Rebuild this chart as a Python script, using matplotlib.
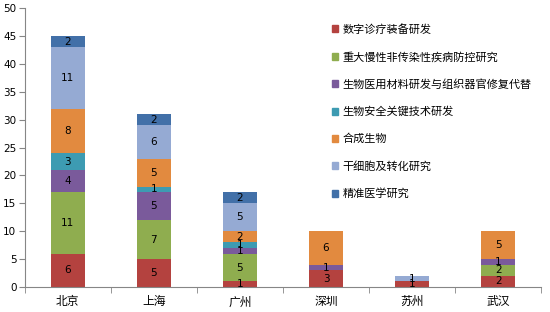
import matplotlib.pyplot as plt
import matplotlib.patches as mpatches
import numpy as np

plt.rcParams['font.family'] = ['DejaVu Sans', 'Noto Sans CJK SC']

cities = ["北京", "上海", "广州", "深圳", "苏州", "武汉"]
series_names = [
    "数字诊疗装备研发",
    "重大慢性非传染性疾病防控研究",
    "生物医用材料研发与组织器官修复代替",
    "生物安全关键技术研发",
    "合成生物",
    "干细胞及转化研究",
    "精准医学研究",
]
digital = [6, 5, 1, 3, 1, 2]
chronic = [11, 7, 5, 0, 0, 2]
biomaterial = [4, 5, 1, 1, 0, 1]
biosafety = [3, 1, 1, 0, 0, 0]
synthetic = [8, 5, 2, 6, 0, 5]
stemcell = [11, 6, 5, 0, 1, 0]
precision = [2, 2, 2, 0, 0, 0]

series = [digital, chronic, biomaterial, biosafety, synthetic, stemcell, precision]
colors = ["#B4423F", "#8FAD4F", "#7A5A9B", "#3D9BB2", "#E28A3F", "#95AAD3", "#4270A8"]

fig = plt.figure(figsize=(5.5, 3.12), dpi=100)
ax = fig.add_axes([0.045, 0.080, 0.939, 0.894])

x = np.arange(len(cities))
bottom = np.zeros(len(cities))
for vals, col in zip(series, colors):
    vals = np.array(vals, dtype=float)
    ax.bar(x, vals, 0.4, bottom=bottom, color=col, edgecolor="none")
    for xi, v, b in zip(x, vals, bottom):
        if v > 0:
            ax.text(xi, b + v / 2, f"{int(v)}", ha="center", va="center",
                    fontsize=7.5, color="black")
    bottom += vals

ax.set_xlim(-0.5, len(cities) - 0.5)
ax.set_ylim(0, 50)
ax.set_yticks(range(0, 51, 5))
ax.set_xticks(x)
ax.set_xticklabels(cities, fontsize=8.5)
ax.set_xticks(np.arange(-0.5, len(cities), 1), minor=True)
ax.tick_params(axis="x", which="major", length=0, pad=6)
ax.tick_params(axis="x", which="minor", length=4, color="#868686", direction="out")
ax.tick_params(axis="y", length=4, color="#868686", labelsize=7.5, pad=2)
for s in ["top", "right"]:
    ax.spines[s].set_visible(False)
for s in ["left", "bottom"]:
    ax.spines[s].set_color("#868686")

handles = [mpatches.Patch(color=c, label=n) for c, n in zip(colors, series_names)]
fig.legend(handles=handles, loc="upper left", bbox_to_anchor=(0.585, 0.955),
           frameon=False, fontsize=8, labelspacing=1.5,
           handlelength=0.6, handleheight=0.6, handletextpad=0.4)

fig.savefig("out.png", dpi=100)
